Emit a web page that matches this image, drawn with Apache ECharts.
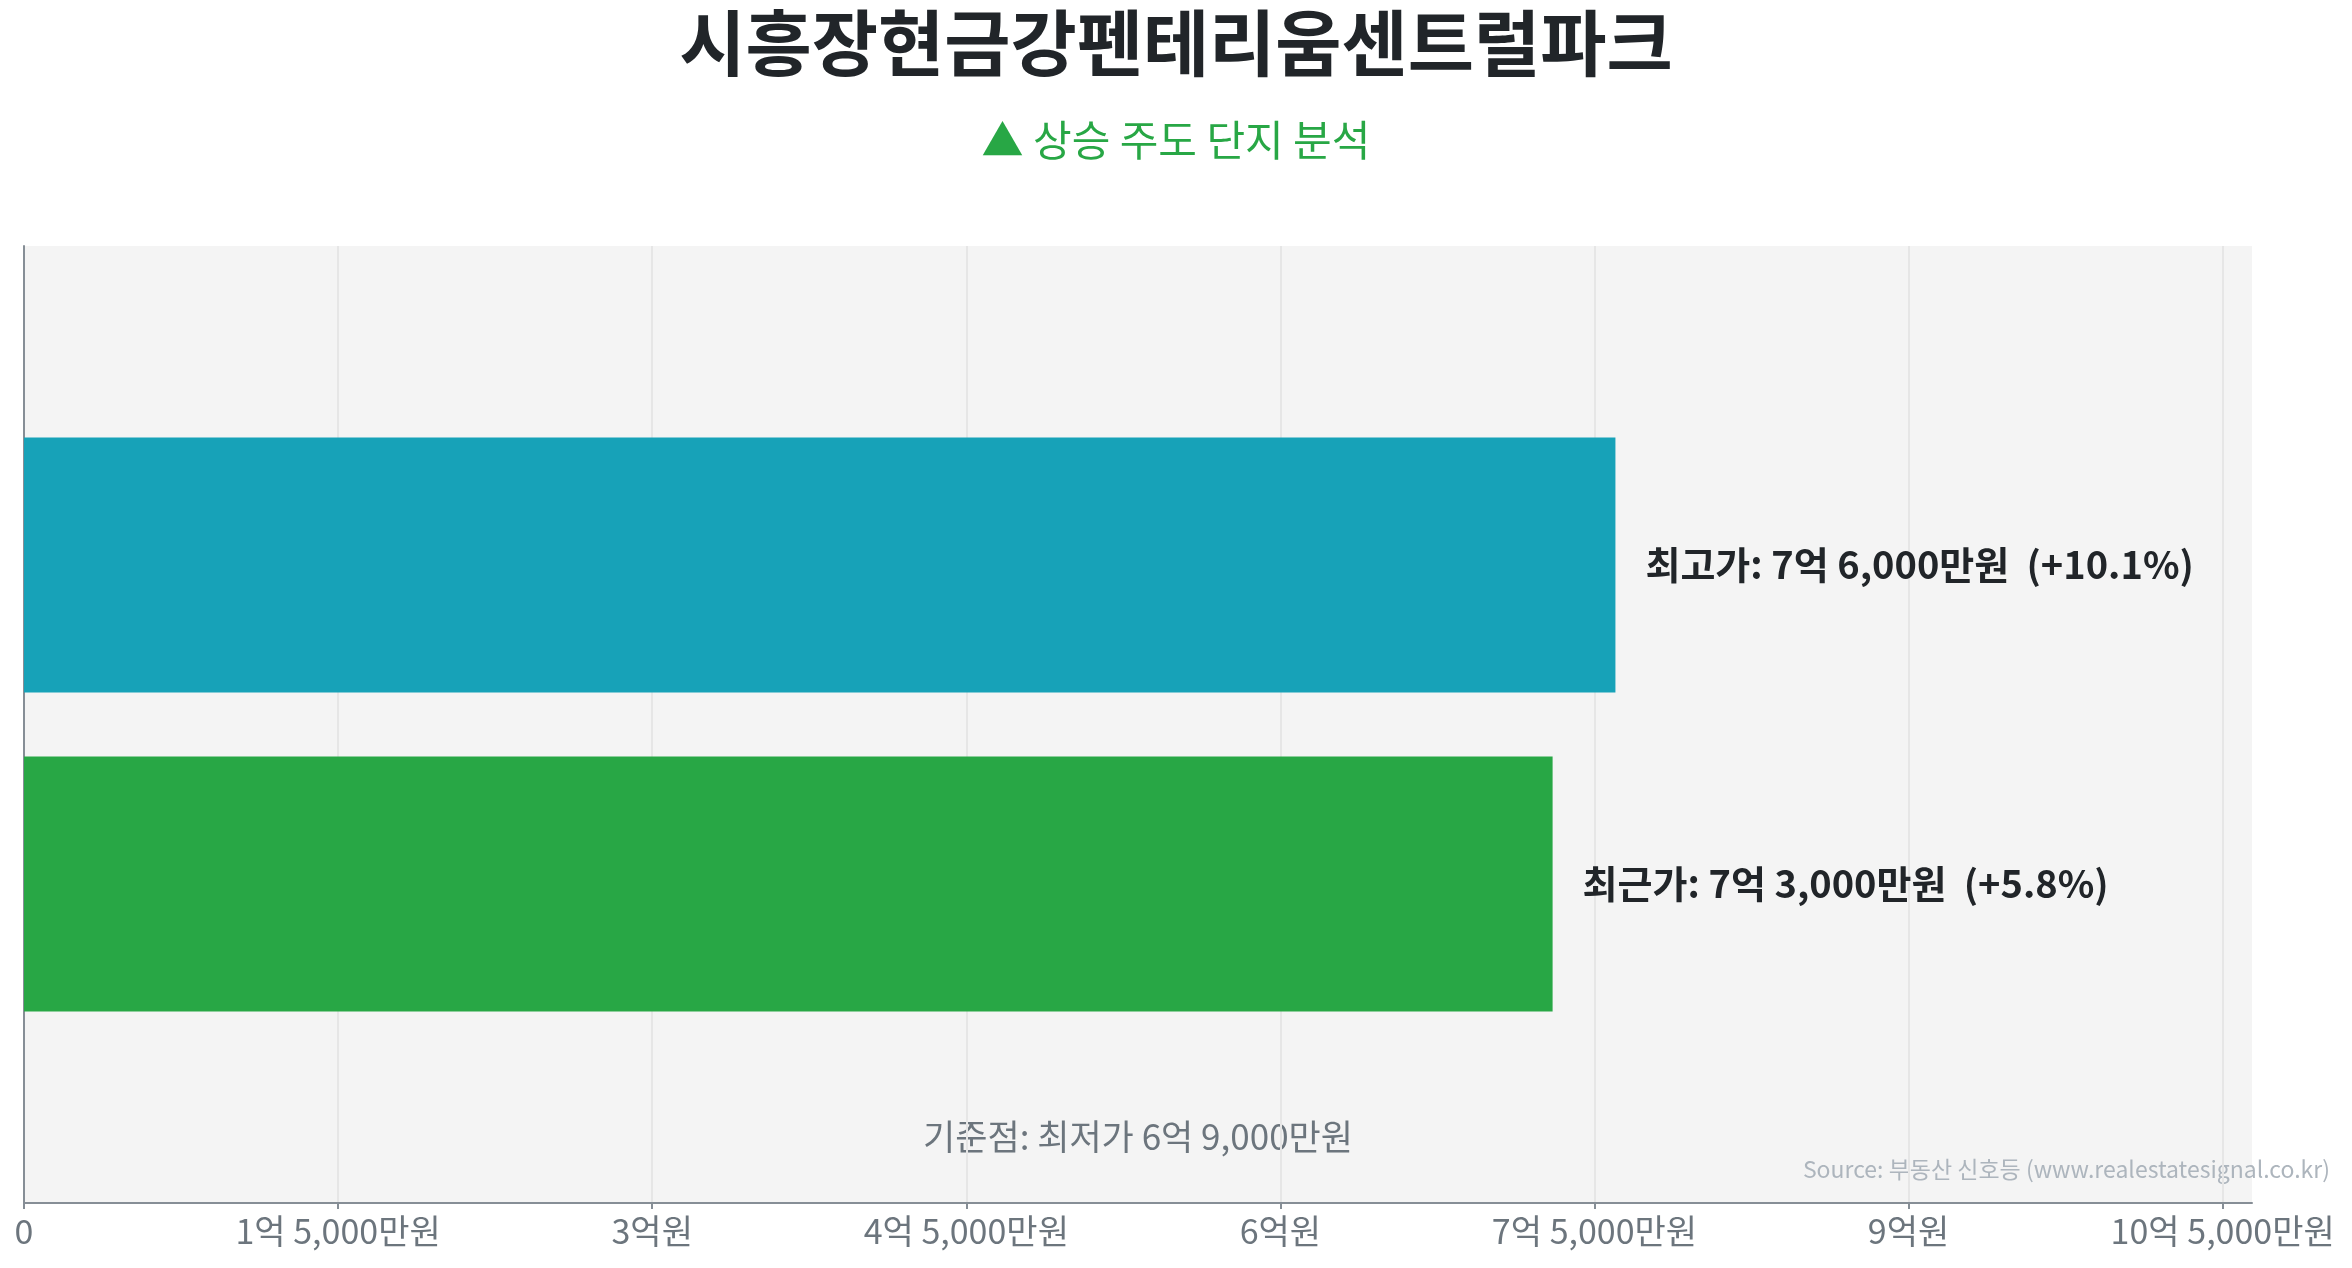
<!DOCTYPE html>
<html>
<head>
<meta charset="utf-8">
<script src="https://cdn.jsdelivr.net/npm/echarts@6/dist/echarts.min.js"></script>
<style>
html,body{margin:0;padding:0;background:#fff;}
#chart{width:2352px;height:1268px;}
</style>
</head>
<body>
<div id="chart"></div>
<script>
// ---- data ----
const titleText = '시흥장현금강펜테리움센트럴파크';
const subtitleText = '▲ 상승 주도 단지 분석';
const yCategories = ['상단', '최고가', '최근가', '기준점'];
const barCategories = ['최고가', '최근가'];
const barValues = [760000000, 730000000];
const barChanges = ['+10.1%', '+5.8%'];
const barColors = ['#17a2b8', '#28a745'];
const baselineValue = 690000000;
const xTickValues = [0, 150000000, 300000000, 450000000, 600000000, 750000000, 900000000, 1050000000];
const xMax = 1064000000;
const sourceText = 'Source: 부동산 신호등 (www.realestatesignal.co.kr)';

const FONT = '"Noto Sans CJK KR", "Noto Sans", sans-serif';

function fmtWon(v) {
  if (v === 0) return '0';
  const eok = Math.floor(v / 1e8);
  const man = Math.round((v % 1e8) / 1e4);
  let s = '';
  if (eok) s += eok + '억';
  if (man) s += (eok ? ' ' : '') + man.toLocaleString('en-US') + '만';
  return s + '원';
}

const chart = echarts.init(document.getElementById('chart'));
const option = {
  backgroundColor: '#ffffff',
  animation: false,
  textStyle: { fontFamily: FONT },
  title: [
    {
      text: titleText,
      left: 'center',
      top: -4,
      textStyle: { fontFamily: FONT, fontSize: 72, fontWeight: 'bold', color: '#212529', lineHeight: 84 }
    },
    {
      text: subtitleText,
      left: 'center',
      top: 108,
      textStyle: { fontFamily: FONT, fontSize: 42, fontWeight: 'normal', color: '#28a745', lineHeight: 54 }
    }
  ],
  grid: {
    left: 24, right: 100, top: 246, bottom: 65,
    show: true, backgroundColor: '#f4f4f4', borderWidth: 0
  },
  xAxis: {
    type: 'value',
    min: 0,
    max: xMax,
    interval: 150000000,
    axisLine: { show: true, lineStyle: { color: '#868e96', width: 2 } },
    axisTick: { show: true, length: 6, lineStyle: { color: '#868e96', width: 2 }, customValues: xTickValues },
    axisLabel: {
      customValues: xTickValues,
      formatter: v => fmtWon(v),
      color: '#6c757d', fontSize: 34, fontFamily: FONT, margin: 11
    },
    splitLine: { show: true, lineStyle: { color: '#e6e6e6', width: 2 } }
  },
  yAxis: {
    type: 'category',
    data: yCategories,
    inverse: true,
    boundaryGap: false,
    axisLine: { show: true, lineStyle: { color: '#868e96', width: 2 } },
    axisTick: { show: false },
    axisLabel: { show: false },
    splitLine: { show: false }
  },
  series: [{
    type: 'bar',
    barWidth: '80%',
    encode: { x: 0, y: 1 },
    data: barCategories.map((c, i) => ({
      value: [barValues[i], c],
      itemStyle: { color: barColors[i] },
      label: {
        show: true,
        position: 'right',
        distance: 30,
        formatter: c + ': ' + fmtWon(barValues[i]) + '  (' + barChanges[i] + ')',
        fontFamily: FONT, fontSize: 38, fontWeight: 'bold', color: '#212529'
      }
    }))
  }],
  graphic: [
    {
      type: 'text',
      x: 24 + (2352 - 24 - 100) / 2,
      y: 1137,
      style: {
        text: '기준점: 최저가 ' + fmtWon(baselineValue),
        fontFamily: FONT, fontSize: 35, fill: '#6c757d',
        align: 'center', verticalAlign: 'middle'
      }
    },
    {
      type: 'text',
      x: 2330,
      y: 1169,
      style: {
        text: sourceText,
        fontFamily: FONT, fontSize: 23, fill: '#adb5bd',
        align: 'right', verticalAlign: 'middle'
      }
    }
  ]
};
chart.setOption(option);
</script>
</body>
</html>
